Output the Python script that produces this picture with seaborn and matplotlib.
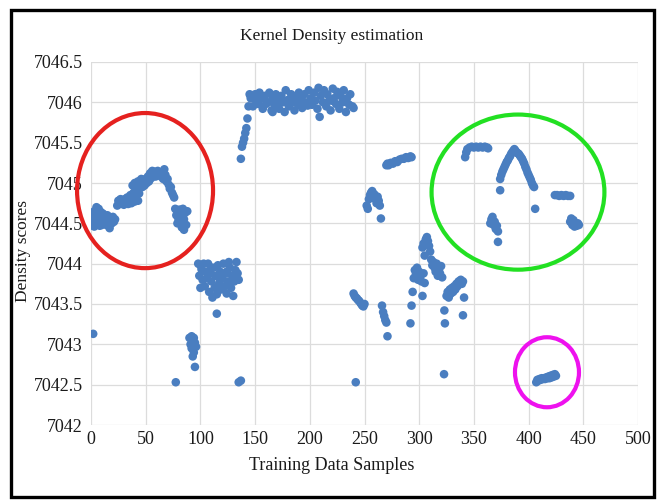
import matplotlib
matplotlib.use("Agg")
import matplotlib.pyplot as plt
from matplotlib.patches import Ellipse, Rectangle
import seaborn as sns
import pandas as pd

# ---- data ----
x_left = [1,2,2,3,4,4,5,6,6,7,8,8,9,10,11,12,13,14,15,16,17,18,19,20,21,22,3,10,
          2]
y_left = [7044.55,7044.6,7044.47,7044.65,7044.58,7044.5,7044.7,7044.62,7044.52,7044.68,7044.58,7044.47,
          7044.64,7044.55,7044.62,7044.5,7044.58,7044.48,7044.6,7044.53,7044.44,7044.57,7044.5,7044.58,
          7044.52,7044.55,7044.46,7044.48,
          7043.13]

x_hump = [24,25,26,27,28,29,30,31,32,33,34,35,36,37,38,39,40,41,42,43,44,
          38,40,42,43,45,46,47,48,49,50,51,52,53,54,55,56,57,58,59,60,61,62,63,64,65,66,67,68,69,70,
          71,72,73,74,75,76,
          77,78,79,80,81,82,83,84,85,86,87,88,79,83,85,81]
y_hump = [7044.72,7044.78,7044.74,7044.8,7044.75,7044.78,7044.73,7044.8,7044.76,7044.82,7044.74,7044.79,
          7044.85,7044.75,7044.8,7044.88,7044.77,7044.83,7044.95,7044.78,7044.87,
          7044.97,7045.0,7044.92,7045.02,7044.98,7045.05,7044.95,7045.02,7044.97,7045.05,7045.0,7045.08,
          7045.02,7045.12,7045.06,7045.15,7045.1,7045.14,7045.08,7045.12,7045.15,7045.1,7045.13,7045.08,
          7045.11,7045.05,7045.17,7045.1,7045.02,7045.05,
          7044.98,7044.93,7044.95,7044.88,7044.85,7044.82,
          7044.68,7044.6,7044.65,7044.55,7044.67,7044.5,7044.62,7044.68,7044.55,7044.63,7044.48,7044.65,
          7044.5,7044.45,7044.42,7044.58]

x_mid = [77.5,
         90,91,92,93,94,95,96,93,94,92,95,
         98,99,100,101,102,103,104,105,106,107,108,109,110,111,112,113,114,115,116,117,118,119,120,
         121,122,123,124,125,126,127,128,129,130,131,132,133,134,135,115,100,118,124,110,
         135,137]
y_mid = [7042.53,
         7043.08,7043.0,7042.95,7043.05,7042.9,7043.02,7042.97,7042.85,7043.08,7043.1,7042.72,
         7044.0,7043.85,7043.7,7043.93,7043.8,7044.0,7043.72,7043.9,7043.82,7044.0,7043.65,7043.88,
         7043.78,7043.58,7043.95,7043.7,7043.85,7043.62,7043.98,7043.75,7043.9,7043.68,7043.82,
         7044.0,7043.72,7043.88,7043.63,7043.78,7044.02,7043.95,7043.7,7043.85,7043.6,7043.78,
         7043.92,7044.02,7043.88,7043.8,7043.38,7043.98,7043.8,7043.9,7043.95,
         7042.53,7042.55]

x_top = [137,138,139,140,141,142,143,144,145,146,
         146,148,150,151,153,154,156,157,159,160,162,163,165,166,168,169,171,172,174,175,177,178,
         180,181,183,184,186,187,189,190,192,193,195,196,198,199,201,202,204,205,207,208,209,210,
         212,213,215,216,218,219,221,222,224,225,227,228,230,231,233,234,236,237,239,240,
         166,185,220,200,178]
y_top = [7045.3,7045.45,7045.5,7045.55,7045.62,7045.68,7045.8,7045.95,7046.1,7046.05,
         7046.08,7045.95,7046.1,7046.02,7045.98,7046.12,7046.05,7045.92,7046.08,7045.98,7046.0,
         7046.12,7045.9,7046.05,7045.97,7046.1,7046.02,7045.92,7046.08,7046.0,7045.88,7046.15,
         7046.03,7045.95,7046.1,7046.0,7045.9,7046.07,7045.98,7046.12,7046.04,7045.93,7046.1,
         7046.0,7045.96,7046.15,7046.05,7045.97,7046.12,7046.02,7045.92,7046.18,7045.82,7046.08,
         7046.0,7046.15,7045.95,7046.1,7046.03,7045.9,7046.17,7046.05,7045.98,7046.13,7045.92,
         7046.08,7046.0,7046.15,7045.88,7046.05,7045.97,7046.1,7045.95,7045.93,
         7045.88,7046.02,7046.02,7046.0,7046.0]

x_right = [242,
           240,241,242,243,244,245,246,247,248,249,250,
           252,253,254,255,256,257,258,259,260,261,262,263,264,265,
           266,267,268,269,270,271,
           270,271,272,274,276,278,280,282,284,286,288,290,292,293,
           292,293,294,295,296,297,298,299,300,301,302,303,304,305,303,304,306,307,308,309,310,305,
           311,312,313,314,315,316,317,318,319,320,321,323,323.5,322.7,
           325,326,327,328,329,330,331,332,333,334,335,336,337,338,339,340,341,340]
y_right = [7042.53,
           7043.63,7043.6,7043.58,7043.57,7043.55,7043.54,7043.52,7043.5,7043.48,7043.47,7043.5,
           7044.72,7044.68,7044.8,7044.85,7044.88,7044.9,7044.82,7044.86,7044.8,7044.75,7044.83,
           7044.78,7044.72,7044.56,
           7043.48,7043.4,7043.35,7043.3,7043.27,7043.1,
           7045.22,7045.24,7045.22,7045.25,7045.24,7045.27,7045.26,7045.29,7045.3,7045.3,7045.32,
           7045.31,7045.33,7045.32,
           7043.26,7043.48,7043.65,7043.82,7043.92,7043.87,7043.95,7043.8,7043.9,7043.84,7043.78,
           7043.6,7043.88,7043.76,7044.2,7044.25,7044.3,7044.33,7044.28,7044.22,7044.15,7044.1,
           7044.05,7043.98,7044.02,7043.95,7043.9,7044.0,7043.85,7043.92,7043.88,7043.97,7043.83,
           7043.42,7043.26,7042.63,
           7043.6,7043.65,7043.58,7043.68,7043.63,7043.7,7043.65,7043.72,7043.68,7043.75,7043.72,
           7043.78,7043.76,7043.8,7043.75,7043.78,7043.58,7043.36]

x_green = [342,343,344,346,348,350,352,354,356,358,360,362,363,
           374,375,376,377,378,379,380,381,382,383,384,385,386,387,388,
           389,390,391,392,393,394,395,396,397,398,399,400,401,402,403,404,405,
           374,406,
           424,426,428,430,432,434,436,438,
           365,366,367,368,369,370,371,372,372,
           438,439,440,441,442,443,444,445,446]
y_green = [7045.32,7045.38,7045.42,7045.44,7045.45,7045.44,7045.45,7045.44,7045.45,7045.44,7045.45,
           7045.44,7045.43,
           7045.05,7045.1,7045.14,7045.17,7045.2,7045.23,7045.26,7045.28,7045.31,7045.33,7045.36,
           7045.38,7045.4,7045.42,7045.4,
           7045.38,7045.37,7045.36,7045.34,7045.32,7045.3,7045.27,7045.24,7045.2,7045.17,7045.13,
           7045.1,7045.07,7045.04,7045.0,7044.97,7044.95,
           7044.91,7044.68,
           7044.85,7044.85,7044.84,7044.85,7044.84,7044.85,7044.84,7044.84,
           7044.5,7044.55,7044.58,7044.48,7044.52,7044.43,7044.47,7044.4,7044.27,
           7044.52,7044.56,7044.48,7044.54,7044.46,7044.5,7044.47,7044.5,7044.48]

x_magenta = [407,408,409,410,411,412,413,414,415,416,417,418,419,420,421,422,423,424,425]
y_magenta = [7042.53,7042.56,7042.55,7042.57,7042.56,7042.58,7042.57,7042.58,7042.57,7042.59,
             7042.58,7042.6,7042.58,7042.61,7042.59,7042.62,7042.6,7042.63,7042.61]

x_ticks = [0, 50, 100, 150, 200, 250, 300, 350, 400, 450, 500]
y_ticks = [7042, 7042.5, 7043, 7043.5, 7044, 7044.5, 7045, 7045.5, 7046, 7046.5]
y_tick_labels = ["7042", "7042.5", "7043", "7043.5", "7044", "7044.5", "7045", "7045.5", "7046", "7046.5"]

df = pd.DataFrame({
    "x": x_left + x_hump + x_mid + x_top + x_right + x_green + x_magenta,
    "y": y_left + y_hump + y_mid + y_top + y_right + y_green + y_magenta,
})

# ---- style ----
sns.set_style("whitegrid")
plt.rcParams["font.family"] = ["Liberation Serif", "DejaVu Serif"]

fig = plt.figure(figsize=(6.65, 5.0), dpi=100)
ax = fig.add_axes([91/665, 1-425/500, (638-91)/665, (425-62)/500])

sns.scatterplot(data=df, x="x", y="y", ax=ax, color="#4a7ec0", s=38,
                edgecolor="none", linewidth=0, zorder=3)

ax.set_xlim(0, 500)
ax.set_ylim(7042, 7046.5)
ax.set_xticks(x_ticks)
ax.set_yticks(y_ticks)
ax.set_yticklabels(y_tick_labels)
ax.tick_params(axis="both", length=0, labelsize=13, colors="#1a1a1a")
ax.tick_params(axis="y", pad=6)
ax.tick_params(axis="x", pad=4)
ax.grid(True, color="#dcdcdc", linewidth=0.9)
for sp in ax.spines.values():
    sp.set_visible(False)

ax.set_xlabel("")
ax.set_ylabel("")
fig.text(332/665, 1-466/500, "Training Data Samples", ha="center", va="center",
         fontsize=13, color="#1a1a1a")
fig.text(23/665, 1-251/500, "Density scores", ha="center", va="center",
         rotation=90, fontsize=12.5, color="#1a1a1a")
fig.text(332/665, 1-36/500, "Kernel Density estimation", ha="center", va="center",
         fontsize=12.5, color="#1a1a1a")

# annotation ellipses
ax.add_patch(Ellipse((49.4, 7044.906), 124.3, 1.923, fill=False, edgecolor="#e5211f",
                     linewidth=3, zorder=4, clip_on=False))
ax.add_patch(Ellipse((390.3, 7044.887), 158.0, 1.923, fill=False, edgecolor="#22e022",
                     linewidth=3, zorder=4, clip_on=False))
ax.add_patch(Ellipse((416.8, 7042.654), 58.5, 0.868, fill=False, edgecolor="#ee11ee",
                     linewidth=3, zorder=4, clip_on=False))

# outer black frame
fig.patches.append(Rectangle((11/665, 1-497/500), (654-11)/665, (497-10)/500,
                             transform=fig.transFigure, fill=False, edgecolor="black",
                             linewidth=2.4, zorder=10))

fig.savefig("out.png", dpi=100)
